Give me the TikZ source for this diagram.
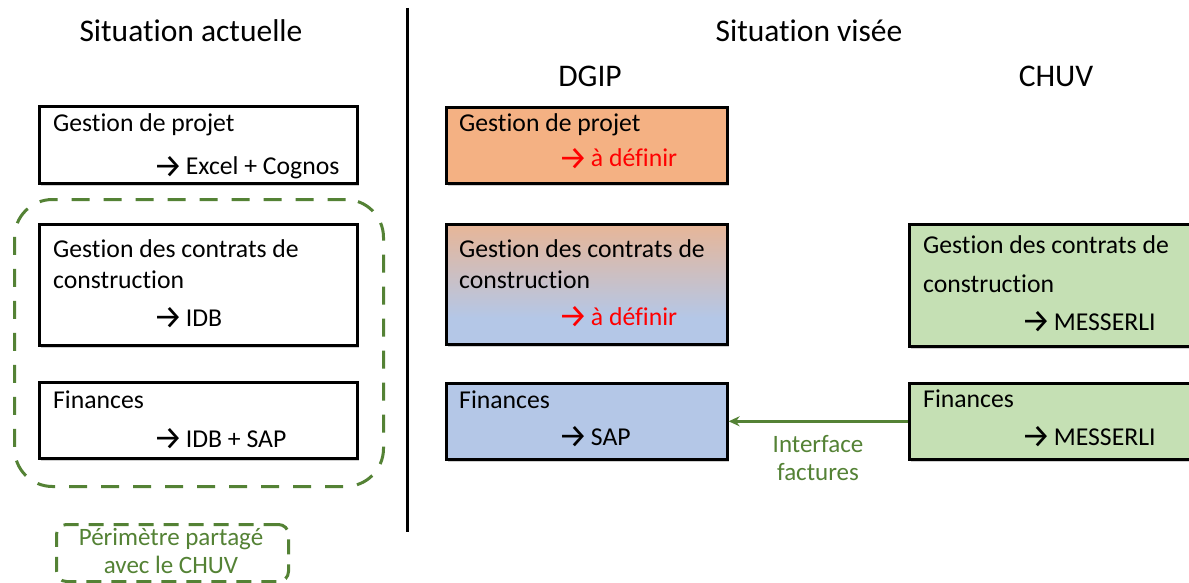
\documentclass[tikz,border=0pt]{standalone}
\usepackage{fontspec}
\setmainfont{Carlito}[RawFeature={-liga}]
\newfontfamily\arrfont{Fira Sans}
\usetikzlibrary{shadows,arrows.meta}
\definecolor{orng}{HTML}{F4B183}
\definecolor{blu}{HTML}{B4C7E7}
\definecolor{grnfill}{HTML}{C5E0B4}
\definecolor{dgreen}{HTML}{548235}
\pgfdeclareverticalshading{orbl}{100bp}{color(0bp)=(blu); color(36bp)=(blu); color(85bp)=(orng); color(100bp)=(orng)}
\newcommand{\ar}{\raisebox{-2.5pt}{\arrfont\fontsize{33pt}{36pt}\selectfont →}\hspace{3pt}}
\begin{document}
\begin{tikzpicture}[x=1pt,y=-1pt,
  box/.style={draw=black, line width=2.6pt, rectangle, anchor=north west, inner sep=0pt,
    drop shadow={shadow xshift=2pt, shadow yshift=-3pt, opacity=0.3, fill=black!60}},
  txt/.style={anchor=base west, inner sep=0pt, font=\fontsize{25.7pt}{30pt}\selectfont},
  head/.style={anchor=base, inner sep=0pt, font=\fontsize{31.5pt}{36pt}\selectfont},
  gtxt/.style={anchor=base, inner sep=0pt, text=dgreen, font=\fontsize{25pt}{30pt}\selectfont},
  perim/.style={draw=dgreen, line width=3pt, dash pattern=on 18pt off 14pt, rectangle, anchor=north west, inner sep=0pt}]
\clip (0,0) rectangle (1189,583);
\fill[white] (0,0) rectangle (1189,583);

% headings
\node[head] (h1) at (191,42) {Situation actuelle};
\node[head] (h2) at (809,42) {Situation visée};
\node[head] (h3) at (590,87) {DGIP};
\node[head] (h4) at (1056,87) {CHUV};

% separator
\coordinate (s1) at (407,8);
\coordinate (s2) at (407,532);
\draw[line width=3pt] (s1) -- (s2);

% left column
\node[box, fill=white, minimum width=318pt, minimum height=77pt] (l1) at (38,105) {};
\node[txt] (l1a) at (53,132) {Gestion de projet};
\node[txt] (l1b) at (153,175) {\ar Excel + Cognos};

\node[perim, rounded corners=38pt, minimum width=369pt, minimum height=287pt] (per) at (13,198) {};

\node[box, fill=white, minimum width=318pt, minimum height=121pt] (l2) at (38,223) {};
\node[txt] (l2a) at (53,257) {Gestion des contrats de};
\node[txt] (l2b) at (53,288) {construction};
\node[txt] (l2c) at (153,326) {\ar IDB};

\node[box, fill=white, minimum width=318pt, minimum height=76pt] (l3) at (38,381) {};
\node[txt] (l3a) at (53,408) {Finances};
\node[txt] (l3b) at (153,447) {\ar IDB + SAP};

% legend
\node[perim, dash pattern=on 15pt off 10pt, rounded corners=10pt, minimum width=232pt, minimum height=57pt] (leg) at (55,523) {};
\node[gtxt] (lg1) at (171,545) {Périmètre partagé};
\node[gtxt] (lg2) at (171,573) {avec le CHUV};

% middle column (DGIP)
\node[box, fill=orng, minimum width=281pt, minimum height=76pt] (m1) at (445,106) {};
\node[txt] (m1a) at (459,132) {Gestion de projet};
\node[txt, text=red] (m1b) at (558,167) {\ar à définir};

\node[box, shading=orbl, minimum width=281pt, minimum height=120pt] (m2) at (445,223) {};
\node[txt] (m2a) at (459,257) {Gestion des contrats de};
\node[txt] (m2b) at (459,288) {construction};
\node[txt, text=red] (m2c) at (558,325) {\ar à définir};

\node[box, fill=blu, minimum width=281pt, minimum height=76pt] (m3) at (445,382) {};
\node[txt] (m3a) at (459,408) {Finances};
\node[txt] (m3b) at (558,445) {\ar SAP};

% right column (CHUV)
\node[box, fill=grnfill, minimum width=300pt, minimum height=122pt] (r2) at (908,223) {};
\node[txt] (r2a) at (923,253) {Gestion des contrats de};
\node[txt] (r2b) at (923,292) {construction};
\node[txt] (r2c) at (1021,330) {\ar MESSERLI};

\node[box, fill=grnfill, minimum width=300pt, minimum height=76pt] (r3) at (908,382) {};
\node[txt] (r3a) at (923,407) {Finances};
\node[txt] (r3b) at (1021,445) {\ar MESSERLI};

% interface arrow
\draw[draw=dgreen, line width=2.5pt, -{Stealth[length=11pt,width=10pt]}] (r3.west) -- (m3.east);
\node[gtxt] (if1) at (818,452) {Interface};
\node[gtxt] (if2) at (818,480) {factures};
\end{tikzpicture}
\end{document}
